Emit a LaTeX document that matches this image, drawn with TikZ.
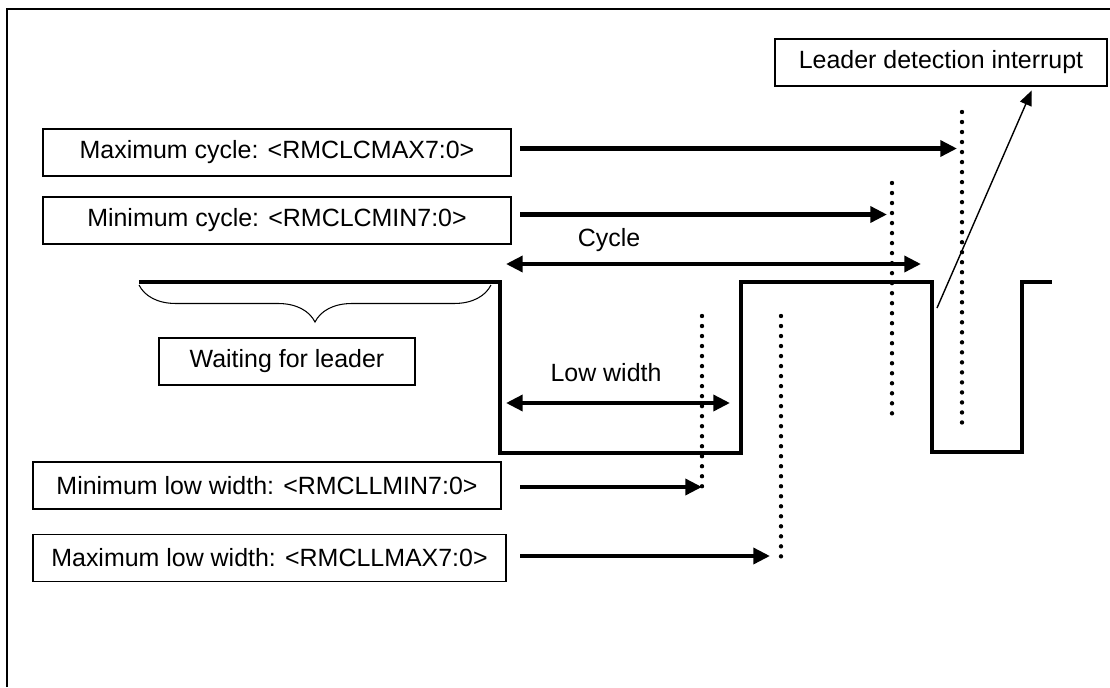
\documentclass[tikz,border=0pt]{standalone}
\usepackage{fontspec}
\setmainfont{Liberation Sans}
\usetikzlibrary{arrows.meta,calc,decorations.pathreplacing}

\begin{document}
\begin{tikzpicture}[x=0.02cm,y=-0.02cm,
  lbl/.style={font=\fontsize{14.2}{17}\selectfont},
  regbox/.style={lbl,draw,line width=0.85pt,minimum height=0.94cm,inner sep=0pt},
  bigarrow/.style={line width=2.3pt,-{Triangle[length=9.5pt,width=9pt]}},
  dblarrow/.style={line width=2.3pt,{Triangle[length=9.5pt,width=9pt]}-{Triangle[length=9.5pt,width=9pt]}},
  thinarrow/.style={line width=0.8pt,-{Triangle[length=8.5pt,width=7pt]}},
  dotline/.style={line width=2.5pt,line cap=round,dash pattern=on 0pt off 5.7pt},
  signal/.style={line width=2.8pt,line join=miter}]
  \useasboundingbox (0,0) rectangle (1110,687);

  %% ── frame ──
  \draw[line width=1.2pt] (7,687) -- (7,9) -- (1110,9);

  %% ── register boxes ──
  \node[regbox,minimum width=9.36cm] (cmax) at (277,152.5) {Maximum cycle: <RMCLCMAX7:0>};
  \node[regbox,minimum width=9.36cm] (cmin) at (277,220.5) {Minimum cycle: <RMCLCMIN7:0>};
  \node[regbox,minimum width=9.36cm] (lmin) at (267,485.5) {Minimum low width: <RMCLLMIN7:0>};
  \node[regbox,minimum width=9.46cm] (lmax) at (269.5,558) {Maximum low width: <RMCLLMAX7:0>};
  \node[regbox,minimum width=5.12cm] (wait) at (287,361.5) {Waiting for leader};
  \node[regbox,minimum width=6.64cm] (intr) at (941,62.5) {Leader detection interrupt};

  %% ── leader signal ──
  \coordinate (fall) at (937,308);
  \draw[signal] (139,282) -- (500,282) -- (500,453) -- (741,453) -- (741,282)
    -- (932,282) -- (932,452) -- (1022,452) -- (1022,282) -- (1052,282);
  \draw[line width=0.6pt,decorate,decoration={brace,amplitude=0.74cm}]
    (491,285) -- (139,285);

  %% ── threshold marks ──
  \coordinate (ax) at (520,0);
  \draw[dotline] (962,112) -- (962,423);
  \draw[dotline] (892,183) -- (892,415);
  \draw[dotline] (702,316) -- (702,487);
  \draw[dotline] (781,316) -- (781,557);
  \coordinate (dcmax) at (957,0);
  \coordinate (dcmin) at (887,0);
  \coordinate (dlmin) at (702,0);
  \coordinate (dlmax) at (770,0);
  \draw[bigarrow] ($(cmax.east -| ax)+(0,-4)$) -- ($(cmax.east -| dcmax)+(0,-4)$);
  \draw[bigarrow] ($(cmin.east -| ax)+(0,-6)$) -- ($(cmin.east -| dcmin)+(0,-6)$);
  \draw[bigarrow] ($(lmin.east -| ax)+(0,1.5)$) -- ($(lmin.east -| dlmin)+(0,1.5)$);
  \draw[bigarrow] ($(lmax.east -| ax)+(0,-2)$) -- ($(lmax.east -| dlmax)+(0,-2)$);

  %% ── cycle and low width ──
  \coordinate (cycL) at (506,264);
  \coordinate (cycR) at (921,264);
  \draw[dblarrow] (cycL) -- (cycR);
  \node[lbl] (cyc) at (609,240) {Cycle};
  \coordinate (lowL) at (506,403);
  \coordinate (lowR) at (730,403);
  \draw[dblarrow] (lowL) -- (lowR);
  \node[lbl] (low) at (606,373) {Low width};

  %% ── interrupt ──
  \draw[thinarrow,shorten >=0.08cm] (fall) -- ($(intr.south west)!0.777!(intr.south east)$);
\end{tikzpicture}
\end{document}
